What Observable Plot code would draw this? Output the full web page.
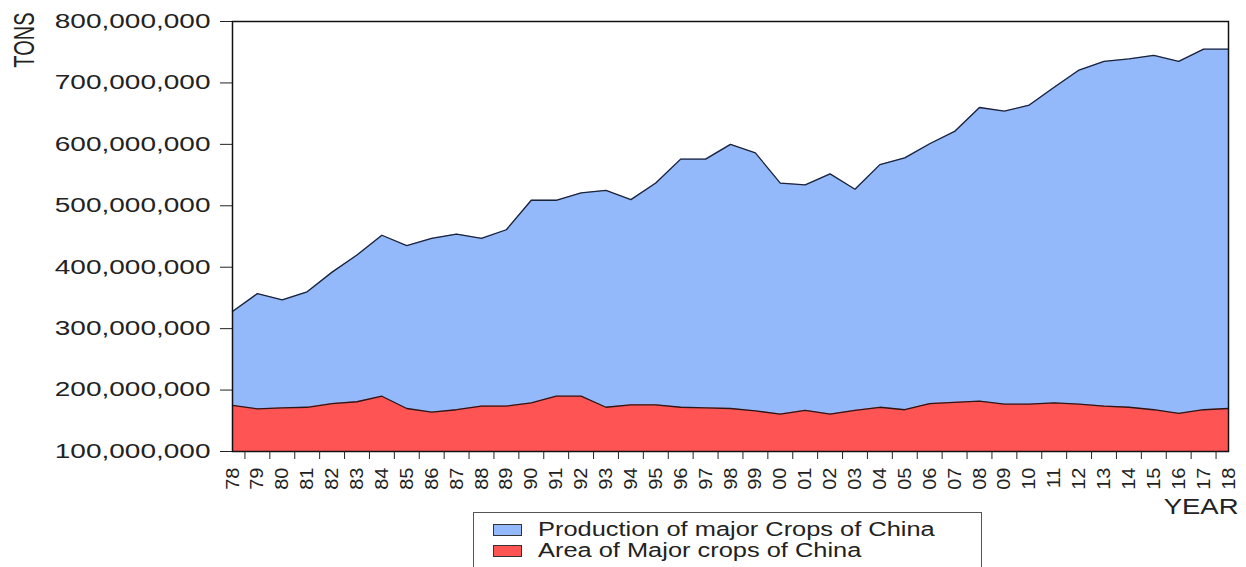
<!DOCTYPE html>
<html><head><meta charset="utf-8">
<script src="https://cdn.jsdelivr.net/npm/d3@7"></script>
<script src="https://cdn.jsdelivr.net/npm/@observablehq/plot@0.6"></script>
<style>
body{margin:0;background:#fff;font-family:"Liberation Sans",Arial,sans-serif;}
#wrap{position:relative;width:1246px;height:567px;overflow:hidden;background:#fff;}
.legend{position:absolute;left:473px;top:512px;width:509px;height:70px;border:1.5px solid #555;box-sizing:border-box;padding:6px 0 0 19px;}
.row{display:flex;align-items:center;height:21px;}
.sw{width:29px;height:12px;border:1.3px solid #333;box-sizing:border-box;margin-right:16px;flex:none;}
.lt{font-size:20px;color:#222;display:inline-block;transform:scaleX(1.27);transform-origin:left center;white-space:nowrap;}
</style></head><body><div id="wrap"></div>
<script>
const yearLabels = ["78","79","80","81","82","83","84","85","86","87","88","89","90","91","92","93","94","95","96","97","98","99","00","01","02","03","04","05","06","07","08","09","10","11","12","13","14","15","16","17","18"];
// values in millions of tons
const production = [328,357,347,360,392,420,452,435,447,454,447,461,509,509,521,525,510,537,576,576,600,586,537,534,552,527,567,578,601,621,660,654,664,693,721,735,739,745,735,755,755];
const area = [175,169.5,171,172,178,181,190,170,164,168,174,174,179,190,190,172,176,176,172,171,170,166,161,167,161,167,172,168,178,180,182,177,177,179,177,174,172,168,162,168,170];
const seriesNames = ["Production of major Crops of China","Area of Major crops of China"];
const seriesColors = ["#93b9fa","#ff5454"];
const yTicks = [100,200,300,400,500,600,700,800];
const firstYear = 1978;

const rows = yearLabels.map((lab,i)=>({year:firstYear+i,label:lab,production:production[i],area:area[i]}));
const halfYears = rows.slice(0,-1).map(r=>r.year+0.5);
const labelByYear = new Map(rows.map(r=>[r.year,r.label]));
const fontFam = '"Liberation Sans", Arial, sans-serif';

const chart = Plot.plot({
  width:1246, height:520,
  marginLeft:232, marginRight:18, marginTop:21, marginBottom:69,
  style:{fontFamily:fontFam, fontSize:"20px", color:"#222", background:"#fff"},
  x:{domain:[firstYear, firstYear+yearLabels.length-1]},
  y:{domain:[yTicks[0], yTicks[yTicks.length-1]]},
  marks:[
    Plot.areaY(rows,{x:"year",y1:yTicks[0],y2:"production",fill:seriesColors[0]}),
    Plot.areaY(rows,{x:"year",y1:yTicks[0],y2:"area",fill:seriesColors[1]}),
    Plot.lineY(rows,{x:"year",y:"production",stroke:"#1c2238",strokeWidth:1.3}),
    Plot.lineY(rows,{x:"year",y:"area",stroke:"#2a1818",strokeWidth:1.3}),
    Plot.frame({stroke:"#111",strokeWidth:1.5}),
    Plot.axisY({ticks:yTicks, tickSize:12, tickPadding:10, tickFormat:d=>d3.format(",")(d*1e6), label:null, fontSize:20}),
    Plot.axisX({ticks:halfYears, tickSize:8, tickFormat:()=>"", label:null}),
    Plot.axisX({ticks:rows.map(r=>r.year), tickSize:0, tickPadding:16, tickRotate:-90, tickFormat:d=>labelByYear.get(d), label:null, fontSize:20}),
    Plot.text(["TONS"],{frameAnchor:"top-left", rotate:-90, dx:-208, dy:-9, textAnchor:"end", lineAnchor:"middle", fontSize:20, fill:"#222"}),
    Plot.text(["YEAR"],{frameAnchor:"bottom-right", dx:10, dy:62, textAnchor:"end", lineAnchor:"bottom", fontSize:22, fill:"#222"})
  ]
});

// stretch glyphs around each text's own anchor (its translate)
function stretch(texts, sx, sy){
  texts.forEach(t=>{
    const tr = t.getAttribute("transform") || "";
    t.setAttribute("transform", `${tr} scale(${sx},${sy})`);
  });
}
stretch(chart.querySelectorAll('g[aria-label="y-axis tick label"] text'), 1.4, 1);
stretch(chart.querySelectorAll('g[aria-label="x-axis tick label"] text'), 1, 0.95);
const textGroups = chart.querySelectorAll('g[aria-label="text"]');
if (textGroups[0]) stretch(textGroups[0].querySelectorAll("text"), 1, 1.5);
if (textGroups[1]) stretch(textGroups[1].querySelectorAll("text"), 1.25, 1);

const wrap = document.getElementById("wrap");
wrap.appendChild(chart);
const leg = document.createElement("div");
leg.className = "legend";
seriesNames.forEach((name,i)=>{
  const row = document.createElement("div"); row.className="row";
  const sw = document.createElement("div"); sw.className="sw"; sw.style.background=seriesColors[i];
  const lt = document.createElement("span"); lt.className="lt"; lt.textContent=name;
  row.appendChild(sw); row.appendChild(lt); leg.appendChild(row);
});
wrap.appendChild(leg);
</script></body></html>
